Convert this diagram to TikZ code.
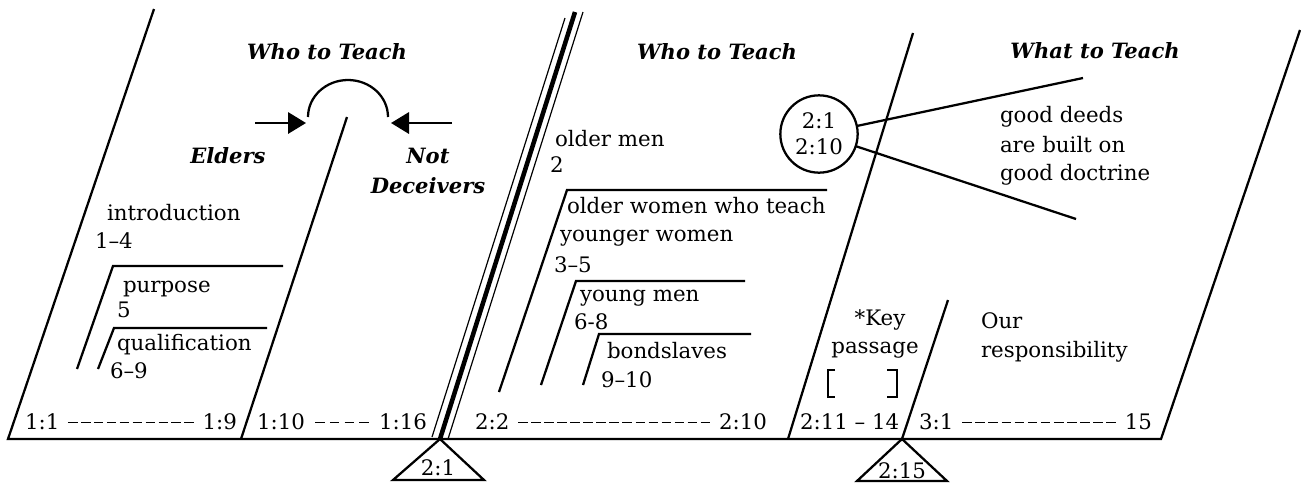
\documentclass[tikz,border=0pt]{standalone}
\usepackage{fontspec}
\setmainfont{DejaVu Serif}
\usetikzlibrary{arrows.meta}
\newcommand\dashseg{\hbox{\kern1.1pt\rule[4.4pt]{7.2pt}{1.05pt}\kern1.1pt}}
\newcommand\refspan[3]{\makebox[#1][s]{#2\ \xleaders\dashseg\hfill\ #3}}
\begin{document}
\begin{tikzpicture}[x=0.75pt,y=-0.75pt,
  every node/.style={inner sep=0pt,outer sep=0pt},
  txt/.style={font=\fontsize{16}{19}\selectfont,anchor=base west},
  ctxt/.style={font=\fontsize{16}{19}\selectfont,anchor=base},
  ttl/.style={font=\fontsize{15.8}{19}\selectfont\bfseries\itshape,anchor=base},
  ln/.style={line width=1.7pt},
  thinln/.style={line width=0.9pt},
  thickln/.style={line width=3.4pt},
  arr/.style={line width=1.7pt,-{Triangle[length=13.5pt,width=16pt]}},
]
\useasboundingbox (0,0) rectangle (1301,483);

% base line and section dividers
\coordinate (b0) at (8,439);
\coordinate (b1) at (1161,439);
\coordinate (t0) at (154,9);
\coordinate (d1b) at (241,439);
\coordinate (d1t) at (347,117);
\coordinate (d3b) at (788,439);
\coordinate (d3t) at (913,33);
\coordinate (apexB) at (902,439);
\coordinate (d4t) at (948,300);
\coordinate (t1) at (1300,30);
\draw[ln] (t0) -- (b0) -- (b1) -- (t1);
\draw[ln] (d1b) -- (d1t);
\draw[ln] (d3b) -- (d3t);
\draw[ln] (apexB) -- (d4t);

% double divider
\coordinate (apexA) at (440,439);
\draw[thinln] (432,437) -- (565,18);
\draw[thickln] (apexA) -- (575,12);
\draw[thinln] (448,439) -- (583,12);

% triangles
\draw[ln,line join=miter] (apexA) -- (393,480) -- (484,480) -- cycle;
\node[ctxt] (tri1) at (438,475) {2:1};
\draw[ln,line join=miter] (apexB) -- (857,481) -- (947,481) -- cycle;
\node[ctxt] (tri2) at (902,478) {2:15};

% titles
\node[ttl] (ttl1) at (327,59) {Who to Teach};
\node[ttl] (ttl2) at (717,59) {Who to Teach};
\node[ttl] (ttl3) at (1095,58) {What to Teach};
\node[ttl] (elders) at (228,163) {Elders};
\node[ttl] (not) at (428,163) {Not};
\node[ttl] (deceivers) at (428,193) {Deceivers};

% arc with arrows
\coordinate (arcL) at (308,117);
\coordinate (arcR) at (388,117);
\draw[ln] (arcL) arc[start angle=180,end angle=360,x radius=40,y radius=37];
\coordinate (aL0) at (255,123);
\coordinate (aL1) at (306,123);
\coordinate (aR0) at (452,123);
\coordinate (aR1) at (391,123);
\draw[arr] (aL0) -- (aL1);
\draw[arr] (aR0) -- (aR1);

% left section texts
\node[txt] (intro) at (107,220) {introduction};
\node[txt] (introv) at (95,248) {1–4};
\draw[ln] (77,369) -- (113,266) -- (283,266);
\node[txt] (purpose) at (123,292) {purpose};
\node[txt] (purposev) at (117,317) {5};
\draw[ln] (98,369) -- (114,328) -- (267,328);
\node[txt] (qual) at (117,350) {qualification};
\node[txt] (qualv) at (110,378) {6–9};

% middle section texts
\node[txt] (oldmen) at (555,146) {older men};
\node[txt] (oldmenv) at (550,172) {2};
\draw[ln] (499,392) -- (567,190) -- (827,190);
\node[txt] (oldw1) at (567,213) {older women who teach};
\node[txt] (oldw2) at (560,241) {younger women};
\node[txt] (oldwv) at (554,272) {3–5};
\draw[ln] (541,385) -- (576,281) -- (745,281);
\node[txt] (young) at (580,301) {young men};
\node[txt] (youngv) at (574,329) {6-8};
\draw[ln] (583,385) -- (599,334) -- (751,334);
\node[txt] (bond) at (607,358) {bondslaves};
\node[txt] (bondv) at (601,387) {9–10};

% circle and fan
\node[circle,draw,ln,minimum size=58pt,align=center,
      font=\fontsize{16}{19.5}\selectfont] (circ) at (819,134) {2:1\\2:10};
\coordinate (f1) at (1083,78);
\coordinate (f2) at (1076,219);
\draw[ln] (circ) -- (f1);
\draw[ln] (circ) -- (f2);
\node[txt] (gd1) at (1000,122) {good deeds};
\node[txt] (gd2) at (1000,152) {are built on};
\node[txt] (gd3) at (1000,180) {good doctrine};

% key passage
\node[ctxt] (key) at (880,325) {*Key};
\node[ctxt] (passage) at (875,353) {passage};
\draw[line width=2pt] (835,370) -- (828,370) -- (828,397) -- (835,397);
\draw[line width=2pt] (887,370) -- (897,370) -- (897,397) -- (887,397);

% responsibility
\node[txt] (our) at (981,328) {Our};
\node[txt] (resp) at (981,357) {responsibility};

% reference spans along the base
\node[txt] (r1) at (25,429) {\refspan{159pt}{1:1}{1:9}};
\node[txt] (r2) at (257,429) {\refspan{127.5pt}{1:10}{1:16}};
\node[txt] (r3) at (475,429) {\refspan{219pt}{2:2}{2:10}};
\node[txt] (r4) at (800,429) {2:11 – 14};
\node[txt] (r5) at (919,429) {\refspan{174.75pt}{3:1}{15}};
\end{tikzpicture}
\end{document}
